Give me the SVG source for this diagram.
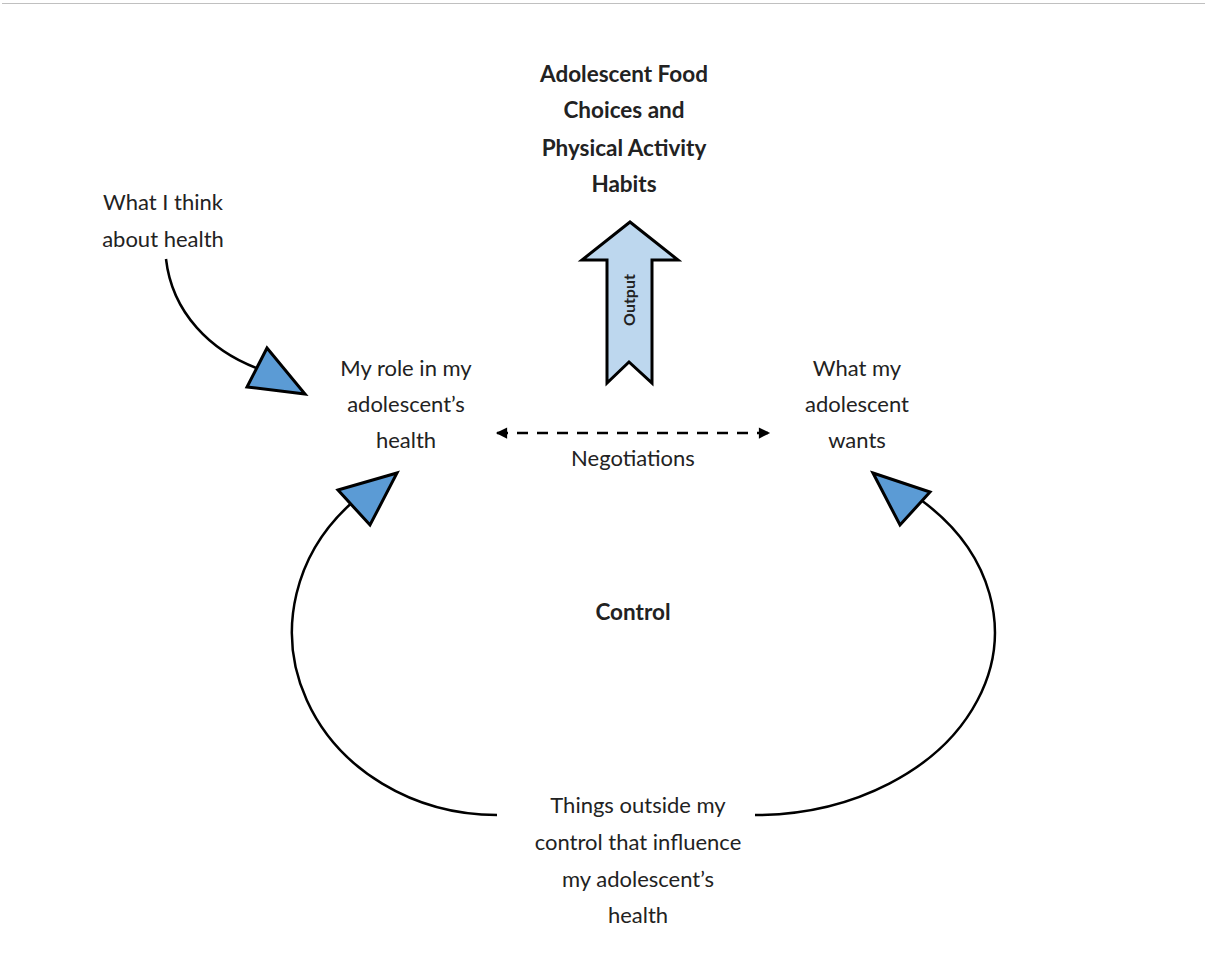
<svg xmlns="http://www.w3.org/2000/svg" width="1205" height="955" viewBox="0 0 1205 955">
<style>
.t{font-family:Lato,"Open Sans","Liberation Sans",sans-serif;font-size:22px;fill:#222;text-anchor:middle}
.b{font-weight:bold;font-size:22.5px}
.c{fill:none;stroke:#000;stroke-width:2.5}
.tri{fill:#5b9bd5;stroke:#000;stroke-width:3;stroke-linejoin:miter}
</style>
<defs>
<marker id="ah" viewBox="0 0 10 10" refX="9" refY="5" markerWidth="5" markerHeight="4.5" orient="auto-start-reverse" markerUnits="strokeWidth">
<path d="M0,0 L10,5 L0,10 z" fill="#000"/>
</marker>
</defs>
<rect width="1205" height="955" fill="#fff"/>
<line x1="2" y1="3.5" x2="1205" y2="3.5" stroke="#c0c0c0" stroke-width="1.2"/>
<g id="connectors">
<path class="c" d="M166,259 C172,312 210,352 262,370"/>
<polygon class="tri" points="267,348 247,387 305,394"/>
<path class="c" d="M497,815 A205,183 0 0 1 355,500"/>
<polygon class="tri" points="338,490 397,473 370,525"/>
<path class="c" d="M755,815 A240,183 0 0 0 921,500"/>
<polygon class="tri" points="873,473 930,492 900,525"/>
<line x1="497" y1="433" x2="769" y2="433" stroke="#000" stroke-width="2.5" stroke-dasharray="11,9" marker-start="url(#ah)" marker-end="url(#ah)"/>
</g>
<g id="output">
<polygon points="630,222 582,260 607,260 607,383 629,362 652,383 652,260 678,260" fill="#bdd7ee" stroke="#000" stroke-width="3" stroke-linejoin="miter"/>
<text class="t b" transform="translate(629,300) rotate(-90)" style="font-size:16px" dy="6">Output</text>
</g>
<g id="title">
<text class="t b" x="624" y="82">Adolescent Food</text>
<text class="t b" x="624" y="118">Choices and</text>
<text class="t b" x="624" y="156">Physical Activity</text>
<text class="t b" x="624" y="192">Habits</text>
</g>
<g id="think">
<text class="t" x="163" y="210">What I think</text>
<text class="t" x="163" y="247">about health</text>
</g>
<g id="role">
<text class="t" x="406" y="376">My role in my</text>
<text class="t" x="406" y="412">adolescent’s</text>
<text class="t" x="406" y="448">health</text>
</g>
<g id="wants">
<text class="t" x="857" y="376">What my</text>
<text class="t" x="857" y="412">adolescent</text>
<text class="t" x="857" y="448">wants</text>
</g>
<g id="negotiations">
<text class="t" x="633" y="466">Negotiations</text>
</g>
<g id="control">
<text class="t b" x="633" y="620">Control</text>
</g>
<g id="outside">
<text class="t" x="638" y="813">Things outside my</text>
<text class="t" x="638" y="850">control that influence</text>
<text class="t" x="638" y="887">my adolescent’s</text>
<text class="t" x="638" y="923">health</text>
</g>
</svg>
